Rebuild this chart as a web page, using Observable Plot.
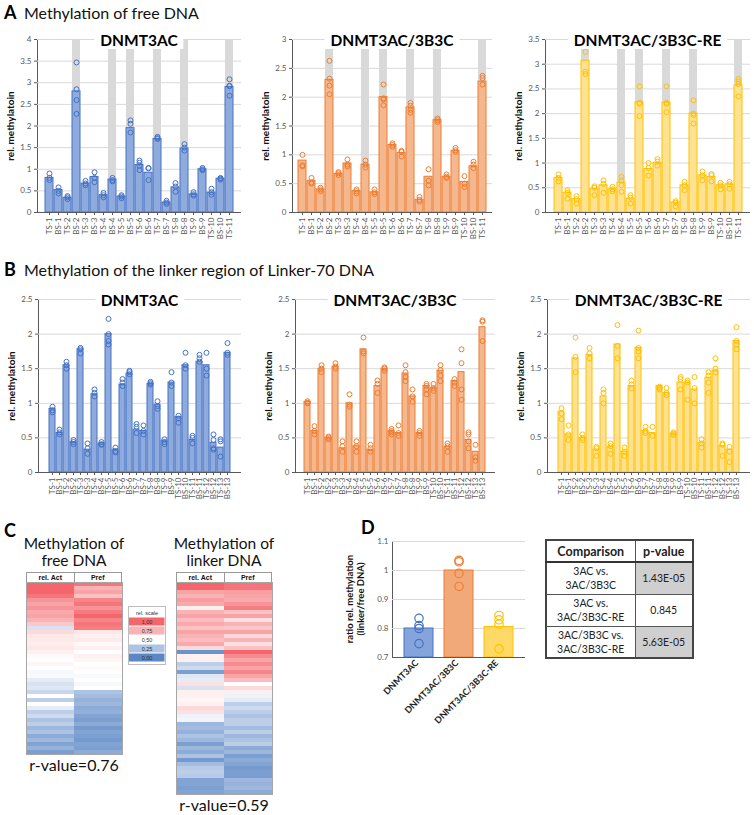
<!DOCTYPE html>
<html><head><meta charset="utf-8">
<script src="https://cdn.jsdelivr.net/npm/d3@7"></script>
<script src="https://cdn.jsdelivr.net/npm/@observablehq/plot@0.6"></script>
<style>
body{margin:0;background:#fff;font-family:Lato,"Open Sans",sans-serif;}
#root{position:relative;width:754px;height:815px;overflow:hidden;background:#fff;}
#root svg{position:absolute;overflow:visible;}
table.pv{border-collapse:collapse;table-layout:fixed;font-family:Lato,sans-serif;color:#222;}
table.pv td{border:1px solid #555;text-align:center;padding:0;overflow:hidden;white-space:nowrap;}
</style></head><body><div id="root"></div>
<script>
// ---------- DATA ----------
const catsA = ["TS-1","BS-1","TS-2","BS-2","TS-3","BS-3","TS-4","BS-4","TS-5","BS-5","TS-6","BS-6","TS-7","BS-7","TS-8","BS-8","TS-9","BS-9","TS-10","BS-10","TS-11"];
const catsB = ["TS-1","BS-1","TS-2","BS-2","TS-3","BS-3","TS-4","BS-4","TS-5","BS-5","TS-6","BS-6","TS-7","BS-7","TS-8","BS-8","TS-9","BS-9","TS-10","BS-10","TS-11","BS-11","TS-12","BS-12","TS-13","BS-13"];
const shadedA = ["BS-2","BS-4","BS-5","TS-7","BS-8","TS-11"];
const enzymes = ["DNMT3AC","DNMT3AC/3B3C","DNMT3AC/3B3C-RE"];

const ticksA1 = [0,0.5,1,1.5,2,2.5,3,3.5,4];
const ticksA2 = [0,0.5,1,1.5,2,2.5,3];
const ticksA3 = [0,0.5,1,1.5,2,2.5,3,3.5];
const ticksB = [0,0.5,1,1.5,2,2.5];
const ticksD = [0.7,0.8,0.9,1,1.1];

const barsA1 = [0.8,0.52,0.34,2.8,0.67,0.82,0.4,0.76,0.37,1.95,1.1,0.92,1.7,0.23,0.58,1.48,0.42,1.0,0.46,0.78,2.9];
const ptsA1 = [[0.9,0.8,0.75],[0.58,0.5,0.44],[0.38,0.35,0.31],[3.47,2.85,2.6,2.28],[0.73,0.67,0.63],[0.93,0.8,0.7],[0.45,0.4,0.35],[0.8,0.75,0.72],[0.4,0.37,0.33],[2.13,2.05,1.85],[1.2,1.15,1.08,0.98],[1.03,1.02,0.75],[1.75,1.72,1.7],[0.27,0.23,0.2],[0.68,0.6,0.48],[1.58,1.5,1.43],[0.47,0.42,0.39],[1.03,1.0,0.98],[0.55,0.47,0.41],[0.8,0.78,0.76],[3.08,2.93,2.92,2.7]];
const barsA2 = [0.9,0.55,0.4,2.3,0.67,0.85,0.37,0.83,0.35,2.0,1.17,1.03,1.82,0.22,0.62,1.6,0.62,1.07,0.53,0.8,2.27];
const ptsA2 = [[1.0,0.82,0.8],[0.6,0.52,0.5],[0.43,0.4,0.37],[2.63,2.32,2.2,2.05],[0.7,0.68,0.65],[0.92,0.83,0.8],[0.4,0.37,0.33],[0.9,0.83,0.78],[0.4,0.35,0.32],[2.22,1.98,1.96,1.86],[1.2,1.17,1.14],[1.07,1.05,0.97],[1.9,1.85,1.78,1.73],[0.27,0.22,0.19],[0.75,0.55,0.47],[1.63,1.6,1.57],[0.66,0.62,0.6],[1.12,1.08,1.05],[0.63,0.5,0.44],[0.88,0.83,0.77],[2.37,2.33,2.22]];
const barsA3 = [0.7,0.4,0.27,3.07,0.47,0.55,0.47,0.6,0.28,2.23,0.88,1.0,2.22,0.2,0.55,2.0,0.75,0.72,0.55,0.57,2.57];
const ptsA3 = [[0.77,0.7,0.63],[0.45,0.4,0.28],[0.33,0.27,0.18],[3.25,2.85,2.8],[0.53,0.5,0.35],[0.65,0.58,0.4],[0.52,0.47,0.43],[0.72,0.65,0.55,0.42],[0.35,0.3,0.18],[2.55,2.22,2.2,1.95],[1.0,0.9,0.75],[1.08,1.03,0.95],[2.55,2.22,2.2,2.03],[0.23,0.2,0.12],[0.62,0.55,0.45],[2.27,2.0,1.97,1.8],[0.83,0.75,0.65],[0.78,0.75,0.63],[0.6,0.55,0.47],[0.62,0.57,0.48],[2.7,2.65,2.6,2.35]];

const barsB1 = [0.92,0.57,1.55,0.44,1.78,0.33,1.13,0.42,2.0,0.33,1.27,1.43,0.62,0.6,1.28,0.98,0.46,1.3,0.8,1.55,0.47,1.6,1.55,0.43,0.36,1.73];
const ptsB1 = [[0.95,0.9,0.87],[0.62,0.58,0.55],[1.6,1.55,1.5],[0.47,0.44,0.41],[1.8,1.78,1.72],[0.42,0.35,0.27],[1.2,1.15,1.1],[0.44,0.41,0.4],[2.22,2.0,1.9,1.85],[0.36,0.31,0.29],[1.35,1.3,1.25],[1.47,1.45,1.42],[0.7,0.66,0.57],[0.68,0.6,0.55],[1.31,1.29,1.27],[1.03,0.96,0.92],[0.48,0.44,0.41],[1.45,1.3,1.25],[0.82,0.78,0.72],[1.73,1.55,1.5],[0.53,0.5,0.42],[1.7,1.65,1.6],[1.73,1.5,1.4],[0.55,0.47,0.35,0.33],[0.48,0.45,0.23],[1.87,1.73,1.7]];
const barsB2 = [1.02,0.6,1.5,0.5,1.53,0.35,1.0,0.38,1.78,0.33,1.25,1.5,0.6,0.57,1.43,1.1,0.57,1.25,1.22,1.47,0.37,1.32,1.45,0.47,0.3,2.1];
const ptsB2 = [[1.03,1.01,1.0],[0.67,0.6,0.55],[1.55,1.5,1.45],[0.52,0.5,0.48],[1.58,1.53,1.5],[0.45,0.38,0.3],[1.13,0.98,0.95],[0.45,0.38,0.3],[1.95,1.75,1.72],[0.4,0.35,0.3],[1.33,1.28,1.15],[1.52,1.5,1.47],[0.63,0.6,0.58,0.55],[0.68,0.57,0.53],[1.55,1.45,1.38,1.32],[1.2,1.1,1.02],[0.6,0.57,0.53],[1.28,1.25,1.2,1.13],[1.28,1.22,1.18],[1.55,1.48,1.4,1.32],[0.42,0.38,0.3],[1.35,1.3,1.25],[1.78,1.58,1.2,1.05],[0.58,0.55,0.45,0.35],[0.4,0.22,0.17],[2.2,2.18,1.9]];
const barsB3 = [0.88,0.55,1.65,0.5,1.7,0.33,1.1,0.37,1.85,0.3,1.25,1.8,0.6,0.57,1.25,1.15,0.56,1.3,1.3,1.2,0.43,1.37,1.47,0.38,0.33,1.9];
const ptsB3 = [[0.93,0.85,0.77],[0.68,0.55,0.47],[1.95,1.67,1.45],[0.55,0.5,0.47],[1.8,1.72,1.65],[0.37,0.35,0.24],[1.2,1.15,1.0],[0.42,0.38,0.27],[2.13,1.83,1.65],[0.36,0.3,0.24],[1.33,1.27,1.22],[2.05,1.8,1.75,1.65],[0.66,0.6,0.57],[0.66,0.53],[1.24,1.22,1.2],[1.22,1.15,1.12],[0.58,0.56,0.54],[1.38,1.35,1.2],[1.33,1.3,1.05],[1.38,1.22,1.0],[0.48,0.42,0.36],[1.45,1.4,1.3,1.15],[1.65,1.5,1.45],[0.42,0.4,0.24],[0.37,0.3,0.15],[2.1,1.9,1.85,1.78]];

const heatCols = ["rel. Act","Pref"];
const heatFreeAct = [1.0,1.0,1.0,0.95,0.85,0.8,0.85,0.78,0.8,0.75,0.68,0.38,0.62,0.58,0.57,0.56,0.58,0.55,0.52,0.5,0.53,0.5,0.47,0.48,0.42,0.38,0.4,0.33,0.5,0.3,0.5,0.42,0.3,0.35,0.25,0.3,0.2,0.25,0.15,0.2,0.12,0.18,0.1];
const heatFreePref = [0.95,0.75,0.8,0.7,0.9,0.95,0.85,0.93,1.0,0.9,0.95,0.92,0.58,0.55,0.57,0.52,0.55,0.5,0.55,0.53,0.5,0.52,0.5,0.48,0.5,0.47,0.5,0.25,0.22,0.18,0.2,0.15,0.17,0.12,0.1,0.15,0.08,0.12,0.1,0.08,0.12,0.1,0.15];
const heatLinkAct = [1.0,1.0,0.8,0.75,0.82,0.78,0.55,0.75,0.8,0.72,0.78,0.7,0.8,0.75,0.72,0.78,0.62,0.05,0.55,0.55,0.3,0.35,0.1,0.4,0.42,0.6,0.38,0.55,0.55,0.53,0.55,0.62,0.6,0.45,0.46,0.2,0.22,0.18,0.25,0.2,0.1,0.2,0.15,0.25,0.08,0.22,0.28,0.3,0.28,0.12,0.12,0.1,0.12];
const heatLinkPref = [0.95,0.95,0.82,0.8,0.78,0.85,0.92,0.7,0.8,0.6,0.75,0.68,0.8,0.62,0.75,0.6,0.7,1.0,0.88,0.8,0.88,0.8,0.9,0.8,0.72,0.5,0.62,0.55,0.45,0.42,0.3,0.35,0.3,0.25,0.3,0.3,0.22,0.3,0.2,0.25,0.3,0.15,0.2,0.1,0.15,0.12,0.08,0.1,0.1,0.2,0.18,0.2,0.15];
const legendValues = [1,0.75,0.5,0.25,0];
const legendLabels = ["1,00","0,75","0,50","0,25","0,00"];
const rValues = ["r-value=0.76","r-value=0.59"];

const ratioBars = [0.8,1.0,0.805];
const ratioPts = [[0.835,0.81,0.8,0.748],[1.035,1.03,0.99,0.945],[0.845,0.83,0.815,0.73]];

const comparisons = [["3AC vs.","3AC/3B3C"],["3AC vs.","3AC/3B3C-RE"],["3AC/3B3C vs.","3AC/3B3C-RE"]];
const pValues = ["1.43E-05","0.845","5.63E-05"];
const pShaded = [true,false,true];

// ---------- STYLE ----------
const FONT = "Lato, 'Open Sans', sans-serif";
const strokes = ["#4472c4","#ed7d31","#ffc000"];
const fills = ["#8faadc","#f5b78e","#ffe28f"];
const fillsD = ["#86a4dc","#f2a97a","#ffd966"];
const heatColor = {type:"linear", domain:[0,0.5,1], range:["#5b87c6","#ffffff","#f4666b"], interpolate:"rgb"};

const root = document.getElementById("root");
function addDiv(html, css){const d=document.createElement("div");d.innerHTML=html;Object.assign(d.style,{position:"absolute",whiteSpace:"nowrap",fontFamily:FONT,color:"#111"},css);root.appendChild(d);return d;}
function addSvg(svg,left,top){svg.style.left=left+"px";svg.style.top=top+"px";root.appendChild(svg);}

function barChart(o){
  const rows = o.cats.map((c,i)=>({c,v:o.bars[i]}));
  const pts = o.cats.flatMap((c,i)=>o.pts[i].map(v=>({c,v})));
  const shade = (o.shade||[]).map(c=>({c,v:o.ticks[o.ticks.length-1]}));
  const svg = Plot.plot({
    width:o.W, height:o.H, marginLeft:o.ML, marginRight:o.MR, marginTop:o.MT, marginBottom:o.MB,
    style:{fontFamily:FONT, fontSize:"8px", color:"#595959", background:"none", overflow:"visible"},
    x:{domain:o.cats, padding:0.12, tickRotate:-90, tickSize:3, tickPadding:2, label:null},
    y:{domain:[0,o.ticks[o.ticks.length-1]], ticks:o.ticks, tickFormat:d=>String(d), tickSize:3, tickPadding:3, label:null, line:true},
    marks:[
      Plot.ruleY(o.ticks.slice(1),{stroke:"#d9d9d9"}),
      Plot.barY(shade,{x:"c",y:"v",fill:"#d9d9d9"}),
      Plot.barY(rows,{x:"c",y:"v",fill:o.fill,stroke:o.stroke,strokeWidth:1}),
      Plot.dot(pts,{x:"c",y:"v",r:2.5,stroke:o.stroke,strokeWidth:1,fill:"none"}),
      Plot.ruleY([0],{stroke:"#595959"})
    ]
  });
  addSvg(svg,o.left,o.top);
  const plotTop = o.top+o.MT, plotBottom = o.top+o.H-o.MB;
  const cx = o.left+o.ML+(o.W-o.ML-o.MR)/2;
  addDiv(o.title,{left:cx+"px",top:(plotTop-8)+"px",transform:"translateX(-50%)",background:"#fff",padding:"0 6px",fontWeight:"700",fontSize:"15.5px",lineHeight:"18px",color:"#000"});
  addDiv("rel. methylatoin",{left:(o.left+o.ylabX)+"px",top:((plotTop+plotBottom)/2)+"px",transform:"translate(-50%,-50%) rotate(-90deg)",fontWeight:"700",fontSize:"10px",color:"#111"});
}

// ---------- PANEL A ----------
addDiv("<b>A</b>",{left:"4px",top:"1px",fontSize:"18px",lineHeight:"22px",color:"#000"});
addDiv("Methylation of free DNA",{left:"24px",top:"2px",fontSize:"16px",lineHeight:"22px",color:"#111"});
const aBase = {cats:catsA, shade:shadedA, top:30, H:222, MT:9, MB:40, ML:37, MR:3, ylabX:10};
barChart({...aBase, title:enzymes[0], bars:barsA1, pts:ptsA1, ticks:ticksA1, stroke:strokes[0], fill:fills[0], left:0, W:244});
barChart({...aBase, title:enzymes[1], bars:barsA2, pts:ptsA2, ticks:ticksA2, stroke:strokes[1], fill:fills[1], left:255, W:240});
barChart({...aBase, title:enzymes[2], bars:barsA3, pts:ptsA3, ticks:ticksA3, stroke:strokes[2], fill:fills[2], left:508, W:245});

// ---------- PANEL B ----------
addDiv("<b>B</b>",{left:"4px",top:"258px",fontSize:"18px",lineHeight:"22px",color:"#000"});
addDiv("Methylation of the linker region of Linker-70 DNA",{left:"24px",top:"259px",fontSize:"16px",lineHeight:"22px",color:"#111"});
const bBase = {cats:catsB, shade:[], ticks:ticksB, top:290, H:222, MT:9, MB:40, ML:37, MR:3, ylabX:10};
barChart({...bBase, title:enzymes[0], bars:barsB1, pts:ptsB1, stroke:strokes[0], fill:fills[0], left:1, W:243});
barChart({...bBase, title:enzymes[1], bars:barsB2, pts:ptsB2, stroke:strokes[1], fill:fills[1], left:258, W:240});
barChart({...bBase, title:enzymes[2], bars:barsB3, pts:ptsB3, stroke:strokes[2], fill:fills[2], left:510, W:243});

// ---------- PANEL C ----------
addDiv("<b>C</b>",{left:"4px",top:"519px",fontSize:"18px",lineHeight:"22px",color:"#000"});
function heatmap(act, pref, left, top, title, rlabel){
  const n = act.length;
  const data = d3.range(n).flatMap(i=>[{row:i,col:heatCols[0],v:act[i]},{row:i,col:heatCols[1],v:pref[i]}]);
  const W = 96, H = n*4;
  addDiv(title,{left:(left+W/2)+"px",top:"535px",transform:"translateX(-50%)",fontSize:"15.5px",lineHeight:"16.5px",textAlign:"center",color:"#111"});
  addDiv(`<div style="display:flex;height:100%"><div style="flex:1;border-right:1px solid #999;text-align:center">${heatCols[0]}</div><div style="flex:1;text-align:center">${heatCols[1]}</div></div>`,
    {left:left+"px",top:(top-10)+"px",width:(W-2)+"px",height:"9px",border:"1px solid #999",fontSize:"7px",lineHeight:"9px",fontWeight:"700",fontFamily:"'Liberation Sans',Arial,sans-serif",background:"#fff"});
  const svg = Plot.plot({
    width:W, height:H, margin:0,
    x:{domain:heatCols, padding:0, axis:null},
    y:{domain:d3.range(n), padding:0, axis:null},
    color:heatColor,
    style:{background:"none"},
    marks:[Plot.cell(data,{x:"col",y:"row",fill:"v"}), Plot.frame({stroke:"#a6a6a6"})]
  });
  addSvg(svg,left,top);
  addDiv(rlabel,{left:(left+W/2)+"px",top:(top+H+2)+"px",transform:"translateX(-50%)",fontSize:"16px",lineHeight:"18px",color:"#111"});
}
heatmap(heatFreeAct, heatFreePref, 26, 582, "Methylation of<br>free DNA", rValues[0]);
heatmap(heatLinkAct, heatLinkPref, 176, 582, "Methylation of<br>linker DNA", rValues[1]);
// legend
{
  const data = legendValues.map((v,i)=>({v,lab:legendLabels[i]}));
  const svg = Plot.plot({
    width:37, height:58, marginTop:9, marginLeft:0, marginRight:0, marginBottom:0,
    x:{axis:null}, y:{domain:legendLabels, padding:0, axis:null},
    color:heatColor,
    style:{background:"none", fontFamily:"'Liberation Sans',Arial,sans-serif"},
    marks:[
      Plot.cell(data,{y:"lab",fill:"v",inset:0.5}),
      Plot.text(data,{y:"lab",text:"lab",fontSize:5.5,fill:"#333"}),
      Plot.text(["rel. scale"],{frameAnchor:"top",dy:-4.5,fontSize:5.5,fill:"#333"}),
      Plot.frame({stroke:"#bdbdbd", insetTop:-9})
    ]
  });
  addSvg(svg,128,606);
}

// ---------- PANEL D ----------
addDiv("<b>D</b>",{left:"361px",top:"516px",fontSize:"18px",lineHeight:"22px",color:"#000"});
{
  const rows = enzymes.map((e,i)=>({e,v:ratioBars[i],i}));
  const pts = enzymes.flatMap((e,i)=>ratioPts[i].map(v=>({e,v,i})));
  const svg = Plot.plot({
    width:160, height:205, marginLeft:22, marginRight:5, marginTop:11, marginBottom:78,
    style:{fontFamily:FONT, fontSize:"8px", color:"#595959", background:"none", overflow:"visible"},
    x:{domain:enzymes, padding:0.27, axis:null},
    y:{domain:[0.7,1.1], ticks:ticksD, tickFormat:d=>String(d), tickSize:0, tickPadding:4, label:null, line:true},
    color:{domain:enzymes, range:strokes},
    marks:[
      Plot.ruleY(ticksD.slice(1),{stroke:"#d9d9d9"}),
      Plot.barY(rows,{x:"e",y1:0.7,y2:"v",fill:d=>fillsD[d.i],stroke:"e",strokeWidth:1}),
      Plot.dot(pts,{x:"e",y:"v",r:4.2,stroke:"e",strokeWidth:1.2,fill:"none"}),
      Plot.ruleY([0.7],{stroke:"#595959"}),
      Plot.text(enzymes,{x:d=>d,frameAnchor:"bottom",dy:6,rotate:-45,textAnchor:"end",fontWeight:"bold",fontSize:9,fill:"#222"})
    ]
  });
  addSvg(svg,370,530);
  addDiv("ratio rel. methylation<br>(linker/free DNA)",{left:"355px",top:"599px",transform:"translate(-50%,-50%) rotate(-90deg)",fontWeight:"700",fontSize:"9.5px",lineHeight:"11px",textAlign:"center",color:"#111"});
}
// table
{
  let html = `<table class="pv" style="width:147px;border:2px solid #444"><colgroup><col style="width:89px"><col style="width:58px"></colgroup>`;
  html += `<tr style="height:22px"><td style="font-weight:700;font-size:12.5px;border-bottom:2.5px solid #333">Comparison</td><td style="font-weight:700;font-size:12.5px;border-bottom:2.5px solid #333">p-value</td></tr>`;
  comparisons.forEach((c,i)=>{
    html += `<tr style="height:32px"><td style="font-size:10.5px;line-height:14px">${c[0]}<br>${c[1]}</td><td style="font-size:10.5px;background:${pShaded[i]?"#cfcfcf":"#fff"}">${pValues[i]}</td></tr>`;
  });
  html += `</table>`;
  addDiv(html,{left:"545px",top:"539px"});
}
</script></body></html>
